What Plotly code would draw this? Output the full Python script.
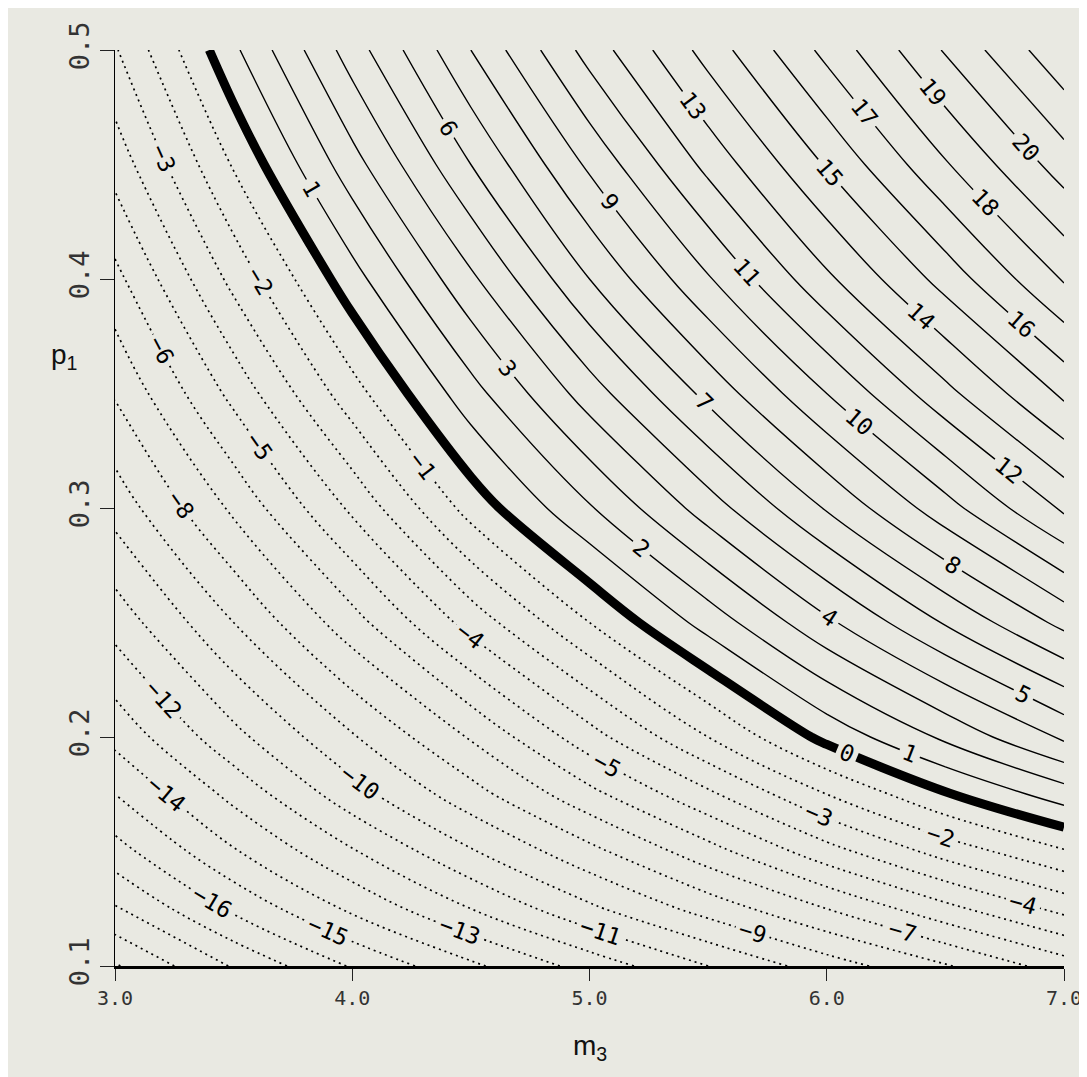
"""Contour map of the statistic over (m3, p1)

Solid lines for positive levels, dotted for negative levels,
heavy line for the zero level.
"""

import plotly.graph_objects as go

# grid
m3 = [3.0, 3.5, 4.0, 4.5, 5.0, 5.5, 6.0, 6.5, 7.0]
p1 = [0.10, 0.125, 0.15, 0.175, 0.20, 0.25, 0.30, 0.35, 0.40, 0.45, 0.50]

# estimated value at each grid point, one row per p1 value
z = [
    [-20.1, -17.9, -15.9, -14.2, -12.6, -11.0, -9.5, -8.1, -6.5],   # p1 = 0.10
    [-18.1, -15.8, -13.8, -12.0, -10.2, -8.6, -7.0, -5.3, -3.7],    # p1 = 0.125
    [-16.4, -14.1, -12.1, -10.1, -8.3, -6.4, -4.4, -2.6, -1.1],     # p1 = 0.15
    [-15.0, -12.7, -10.4, -8.4, -6.3, -4.2, -2.0, -0.1, 1.5],       # p1 = 0.175
    [-13.7, -11.3, -9.1, -6.9, -4.4, -2.0, 0.3, 2.2, 4.2],          # p1 = 0.20
    [-11.6, -9.0, -6.4, -3.6, -1.0, 1.4, 3.8, 6.1, 8.3],            # p1 = 0.25
    [-9.6, -6.8, -3.8, -0.6, 1.9, 4.5, 7.1, 9.6, 12.2],             # p1 = 0.30
    [-7.9, -4.7, -1.4, 1.6, 4.5, 7.3, 10.0, 12.7, 15.2],            # p1 = 0.35
    [-6.3, -2.7, 0.6, 3.8, 7.0, 9.9, 12.8, 15.4, 18.1],             # p1 = 0.40
    [-4.6, -0.9, 2.6, 6.0, 9.2, 12.3, 15.1, 17.9, 20.5],            # p1 = 0.45
    [-3.1, 0.8, 4.5, 8.0, 11.4, 14.4, 17.3, 20.1, 22.8],            # p1 = 0.50
]

x_ticks = [3.0, 4.0, 5.0, 6.0, 7.0]
x_ticktext = ["3.0", "4.0", "5.0", "6.0", "7.0"]
y_ticks = [0.1, 0.2, 0.3, 0.4, 0.5]
y_ticktext = ["0.1", "0.2", "0.3", "0.4", "0.5"]

paper = "#e9e9e2"
label_font = dict(size=23, color="black", family="DejaVu Sans Mono")

fig = go.Figure()

# negative levels: dotted
fig.add_contour(
    x=m3, y=p1, z=z,
    autocontour=False,
    contours=dict(start=-21, end=-1, size=1, coloring="none",
                  showlabels=True, labelfont=label_font),
    line=dict(color="black", width=1.7, dash="2px,4px", smoothing=1),
    showscale=False, hoverinfo="skip")

# positive levels: solid
fig.add_contour(
    x=m3, y=p1, z=z,
    autocontour=False,
    contours=dict(start=1, end=23, size=1, coloring="none",
                  showlabels=True, labelfont=label_font),
    line=dict(color="black", width=1.4, smoothing=1),
    showscale=False, hoverinfo="skip")

# zero level: heavy
fig.add_contour(
    x=m3, y=p1, z=z,
    autocontour=False,
    contours=dict(start=0, end=0, size=1, coloring="none",
                  showlabels=True, labelfont=label_font),
    line=dict(color="black", width=9, smoothing=1),
    showscale=False, hoverinfo="skip")

# axis titles (p1 is written horizontally, high on the left)
fig.add_annotation(text="p<sub>1</sub>", xref="paper", yref="paper",
                   x=-0.07, y=0.665, showarrow=False,
                   font=dict(size=28, family="Liberation Sans", color="#111"))
fig.add_annotation(text="m<sub>3</sub>", xref="paper", yref="paper",
                   x=0.5, y=-0.11, showarrow=False,
                   font=dict(size=28, family="Liberation Sans", color="#111"))

fig.update_layout(
    width=1087, height=1077,
    margin={'l': 107, 'r': 31, 't': 42, 'b': 119},
    paper_bgcolor=paper,
    plot_bgcolor=paper,
    showlegend=False,
)

fig.update_xaxes(range=[3.0, 7.0], tickmode="array",
                 tickvals=x_ticks, ticktext=x_ticktext,
                 showgrid=False, zeroline=False,
                 showline=True, linewidth=3, linecolor="black",
                 ticks="outside", ticklen=12, tickwidth=1.2, tickcolor="#222",
                 tickfont=dict(size=20, family="DejaVu Sans Mono", color="#333"))
fig.update_yaxes(range=[0.1, 0.5], tickmode="array",
                 tickvals=y_ticks, ticktext=y_ticktext, tickangle=-90,
                 showgrid=False, zeroline=False,
                 showline=True, linewidth=1, linecolor="black",
                 ticks="outside", ticklen=14, tickwidth=1.2, tickcolor="#222",
                 tickfont=dict(size=27, family="DejaVu Sans Mono", color="#333"))

fig.write_html("out.html")
